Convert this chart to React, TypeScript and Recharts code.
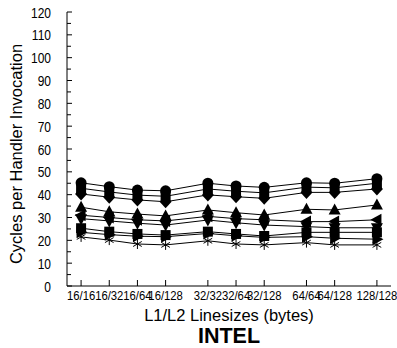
import React from 'react';
import { LineChart, Line, XAxis, YAxis } from 'recharts';

const categories = ['16/16', '16/32', '16/64', '16/128', '32/32', '32/64', '32/128', '64/64', '64/128', '128/128'];
const positions = [0, 1, 2, 3, 4.5, 5.5, 6.5, 8, 9, 10.5];
const yTicks = [0, 5, 10, 15, 20, 25, 30, 35, 40, 45, 50, 55, 60, 65, 70, 75, 80, 85, 90, 95, 100, 105, 110, 115, 120];

const circleSeries = [45.2, 43.5, 42.0, 41.7, 45.0, 43.8, 43.2, 45.2, 45.0, 47.0];
const squareSeries = [42.8, 41.2, 39.8, 39.3, 42.5, 41.5, 40.8, 43.3, 43.0, 45.0];
const diamondSeries = [40.3, 38.9, 37.7, 36.9, 39.9, 39.1, 38.4, 41.0, 41.0, 42.5];
const triUpSeries = [34.5, 32.5, 31.5, 30.7, 33.3, 32.1, 31.1, 33.6, 33.3, 35.5];
const triLeftSeries = [31.0, 30.0, 29.0, 28.5, 30.5, 29.5, 29.0, 28.2, 28.2, 29.0];
const triDownSeries = [29.5, 28.5, 27.5, 26.7, 28.9, 27.7, 26.7, 26.0, 25.5, 25.5];
const square2Series = [25.3, 23.8, 22.8, 22.3, 23.8, 22.8, 21.9, 23.5, 23.5, 23.5];
const triRightSeries = [23.5, 22.5, 21.8, 21.6, 23.0, 22.0, 21.3, 21.6, 20.9, 20.5];
const asteriskSeries = [21.5, 20.1, 18.4, 18.0, 19.8, 18.4, 18.0, 19.0, 18.0, 18.0];

const seriesDefs = [
  { key: 'circle', values: circleSeries, shape: 'circle' },
  { key: 'square', values: squareSeries, shape: 'square' },
  { key: 'diamond', values: diamondSeries, shape: 'diamond' },
  { key: 'triUp', values: triUpSeries, shape: 'triUp' },
  { key: 'triLeft', values: triLeftSeries, shape: 'triLeft' },
  { key: 'triDown', values: triDownSeries, shape: 'triDown' },
  { key: 'square2', values: square2Series, shape: 'square' },
  { key: 'triRight', values: triRightSeries, shape: 'triRight' },
  { key: 'asterisk', values: asteriskSeries, shape: 'asterisk' },
];

const data = categories.map((c, i) => {
  const row: any = { cat: c, pos: positions[i] };
  seriesDefs.forEach((s) => {
    row[s.key] = s.values[i];
  });
  return row;
});

const FONT = '"Liberation Sans", Arial, Helvetica, sans-serif';

function Marker({ cx, cy, shape }: { cx: number; cy: number; shape: string }) {
  if (cx == null || cy == null) return null;
  const r = 5.5;
  switch (shape) {
    case 'circle':
      return <circle cx={cx} cy={cy} r={r} fill="#000" />;
    case 'square':
      return <rect x={cx - 5} y={cy - 5} width={10} height={10} fill="#000" />;
    case 'diamond':
      return <polygon points={`${cx},${cy - 6.5} ${cx + 6},${cy} ${cx},${cy + 6.5} ${cx - 6},${cy}`} fill="#000" />;
    case 'triUp':
      return <polygon points={`${cx},${cy - 6.5} ${cx + 6},${cy + 4.5} ${cx - 6},${cy + 4.5}`} fill="#000" />;
    case 'triDown':
      return <polygon points={`${cx},${cy + 6.5} ${cx + 6},${cy - 4.5} ${cx - 6},${cy - 4.5}`} fill="#000" />;
    case 'triLeft':
      return <polygon points={`${cx - 6.5},${cy} ${cx + 4.5},${cy - 6} ${cx + 4.5},${cy + 6}`} fill="#000" />;
    case 'triRight':
      return <polygon points={`${cx + 6.5},${cy} ${cx - 4.5},${cy - 6} ${cx - 4.5},${cy + 6}`} fill="#000" />;
    case 'asterisk': {
      const a = 5;
      const dx = a * Math.cos(Math.PI / 6);
      const dy = a * Math.sin(Math.PI / 6);
      return (
        <g stroke="#000" strokeWidth={1}>
          <line x1={cx} y1={cy - a} x2={cx} y2={cy + a} />
          <line x1={cx - dx} y1={cy - dy} x2={cx + dx} y2={cy + dy} />
          <line x1={cx - dx} y1={cy + dy} x2={cx + dx} y2={cy - dy} />
        </g>
      );
    }
    default:
      return null;
  }
}

const X_MARGIN = 6;
const Y_MARGIN = 16;

function BottomTick(props: any) {
  const { x, y, payload } = props;
  const idx = positions.indexOf(payload.value);
  const label = idx >= 0 ? categories[idx] : '';
  const axisY = y - X_MARGIN;
  return (
    <g>
      <line x1={x} y1={axisY} x2={x} y2={axisY - 6} stroke="#000" />
      <text
        transform={`translate(${x},${axisY + 14}) scale(1,1.15)`}
        textAnchor="middle"
        fontSize={11.3}
        fontFamily={FONT}
        fill="#000"
      >
        {label}
      </text>
    </g>
  );
}

function TopTick(props: any) {
  const { x, y } = props;
  return <line x1={x} y1={y} x2={x} y2={y + 6} stroke="#000" />;
}

function LeftTick(props: any) {
  const { x, y, payload } = props;
  const v = payload.value;
  const major = v % 10 === 0;
  const axisX = x + Y_MARGIN;
  return (
    <g>
      <line x1={axisX} y1={y} x2={axisX + (major ? 5 : 4)} y2={y} stroke="#000" />
      {major && (
        <text
          transform={`translate(${x},${y + 5.5}) scale(1,1.25)`}
          textAnchor="end"
          fontSize={12}
          fontFamily={FONT}
          fill="#000"
        >
          {v}
        </text>
      )}
    </g>
  );
}

function RightTick(props: any) {
  const { x, y, payload } = props;
  const major = payload.value % 10 === 0;
  return <line x1={x} y1={y} x2={x - (major ? 5 : 4)} y2={y} stroke="#000" />;
}

function XLabel(props: any) {
  const vb = props.viewBox || {};
  const cx = vb.x + vb.width / 2;
  const top = vb.y;
  return (
    <g>
      <text x={cx} y={top + 35} textAnchor="middle" fontSize={16.5} fontFamily={FONT} fill="#000">
        L1/L2 Linesizes (bytes)
      </text>
      <text x={cx} y={top + 57} textAnchor="middle" fontSize={21.5} fontWeight="bold" fontFamily={FONT} fill="#000">
        INTEL
      </text>
    </g>
  );
}

function YLabel(props: any) {
  const vb = props.viewBox || {};
  const cx = 22;
  const cy = vb.y + vb.height / 2 + 5;
  return (
    <text
      x={cx}
      y={cy}
      transform={`rotate(-90, ${cx}, ${cy})`}
      textAnchor="middle"
      fontSize={16.5}
      fontFamily={FONT}
      fill="#000"
    >
      Cycles per Handler Invocation
    </text>
  );
}

export default function App() {
  return (
    <div style={{ position: 'absolute', left: 0, top: 0, background: '#fff' }}>
      <LineChart width={397} height={348} data={data} margin={{ top: 12, right: 6, bottom: 20, left: 0 }}>
        <XAxis
          xAxisId="b"
          dataKey="pos"
          type="number"
          domain={[-0.5, 11]}
          ticks={positions}
          interval={0}
          height={42}
          tickSize={0}
          tickMargin={X_MARGIN}
          tickLine={false}
          axisLine={{ stroke: '#000' }}
          tick={<BottomTick />}
          allowDataOverflow
          label={<XLabel />}
        />
        <XAxis
          xAxisId="t"
          dataKey="pos"
          type="number"
          orientation="top"
          domain={[-0.5, 11]}
          ticks={positions}
          interval={0}
          height={0}
          tickSize={0}
          tickMargin={0}
          tickLine={false}
          axisLine={{ stroke: '#000' }}
          tick={<TopTick />}
          allowDataOverflow
        />
        <YAxis
          yAxisId="l"
          type="number"
          domain={[0, 120]}
          ticks={yTicks}
          interval={0}
          width={67}
          tickSize={0}
          tickMargin={Y_MARGIN}
          tickLine={false}
          axisLine={{ stroke: '#000' }}
          tick={<LeftTick />}
          allowDataOverflow
          label={<YLabel />}
        />
        <YAxis
          yAxisId="r"
          type="number"
          orientation="right"
          domain={[0, 120]}
          ticks={yTicks}
          interval={0}
          width={0}
          tickSize={0}
          tickMargin={0}
          tickLine={false}
          axisLine={{ stroke: '#000' }}
          tick={<RightTick />}
          allowDataOverflow
        />
        {seriesDefs.map((s) => (
          <Line
            key={s.key}
            xAxisId="b"
            yAxisId="l"
            dataKey={s.key}
            stroke="#000"
            strokeWidth={1}
            isAnimationActive={false}
            dot={(p: any) => <Marker key={`${s.key}-${p.index}`} cx={p.cx} cy={p.cy} shape={s.shape} />}
            activeDot={false}
          />
        ))}
      </LineChart>
    </div>
  );
}
